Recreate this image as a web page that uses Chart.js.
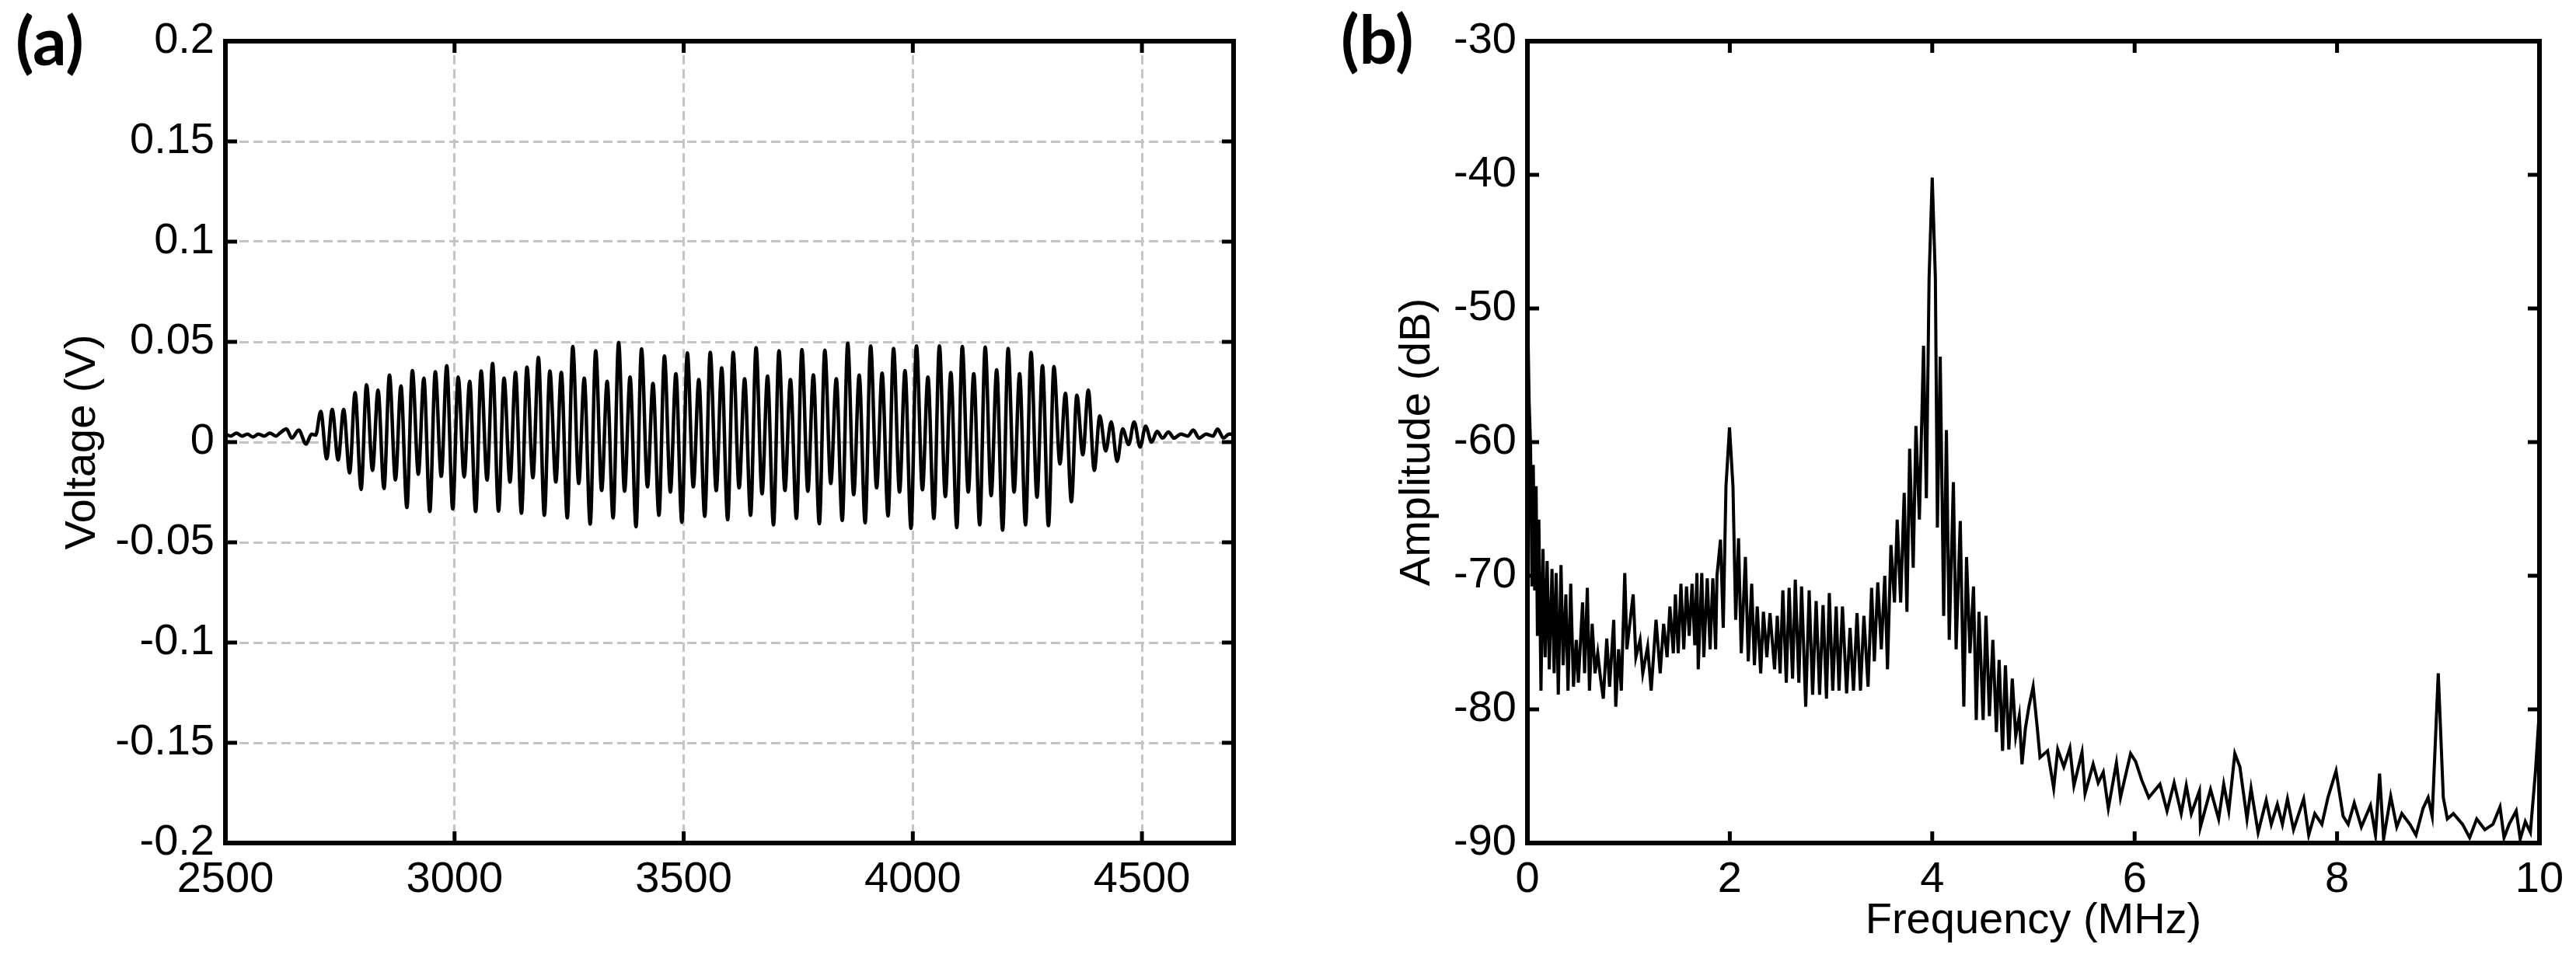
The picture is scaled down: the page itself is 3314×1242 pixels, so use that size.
<!DOCTYPE html>
<html>
<head>
<meta charset="utf-8">
<script src="https://cdn.jsdelivr.net/npm/chart.js@4.4.1/dist/chart.umd.min.js"></script>
<style>
  html, body { margin:0; padding:0; background:#fff; }
  body { width:3314px; height:1242px; position:relative; overflow:hidden; }
  .panel { position:absolute; top:0; width:1657px; height:1242px; }
  .tag { position:absolute; font-family:Lato, "Open Sans", sans-serif; font-weight:700; font-size:86px; line-height:1; color:#000; }
</style>
</head>
<body>
<div class="panel" style="left:0"><canvas id="chartA" width="1657" height="1242"></canvas></div>
<div class="panel" style="left:1657px"><canvas id="chartB" width="1657" height="1242"></canvas></div>
<div class="tag" style="left:20px;top:8px">(a)</div>
<div class="tag" style="left:1725px;top:6px">(b)</div>
<script>
// ---------- data (a): received voltage vs sample ----------
const waveT = [2500,2512,2524,2536,2548,2560,2572,2585,2597,2610,2620,2633,2645,2660,2676,2688,2697,
  2708,2721,2733,2746,2758,2771,2783,2796,2808,2821,2833,2846,2858,2871,2883,2896,2908,2921,2933,2946,
  2958,2971,2983,2996,3008,3021,3033,3046,3058,3071,3083,3096,3108,3121,3133,3146,3158,3171,3183,3196,
  3208,3221,3233,3246,3258,3271,3283,3296,3308,3321,3333,3346,3358,3371,3383,3396,3408,3421,3433,3446,
  3458,3471,3483,3496,3508,3521,3533,3546,3558,3571,3583,3596,3608,3621,3633,3646,3658,3671,3683,3696,
  3708,3721,3733,3746,3758,3771,3783,3796,3808,3821,3833,3846,3858,3871,3883,3896,3908,3921,3933,3946,
  3958,3971,3983,3996,4008,4021,4033,4046,4058,4071,4083,4096,4108,4121,4133,4146,4158,4171,4183,4196,
  4208,4221,4233,4246,4258,4271,4283,4296,4308,4321,4333,4346,4358,4371,4383,4396,4408,4421,4433,4446,
  4458,4471,4483,4496,4508,4521,4533,
  4545,4558,4570,4585,4600,4612,4625,4640,4655,4665,4678,4690,4700];
const waveV = [0.004,0.003,0.0045,0.003,0.004,0.0025,0.004,0.003,0.0045,0.003,0.0047,0.0066,0.002,0.006,-0.001,0.004,0.0035,
  0.0153,-0.0083,0.0163,-0.0089,0.0163,-0.0154,0.0247,-0.0236,0.0286,-0.0141,0.026,-0.0232,0.0334,-0.0189,
  0.028,-0.0326,0.0357,-0.016,0.0319,-0.0346,0.0351,-0.0171,0.0381,-0.0333,0.0325,-0.0174,0.0303,-0.0346,
  0.0355,-0.0189,0.0392,-0.0344,0.0319,-0.0199,0.0348,-0.0355,0.0374,-0.0177,0.0422,-0.0365,0.0355,-0.0199,
  0.0348,-0.0378,0.0477,-0.0206,0.0319,-0.0409,0.0455,-0.0241,0.0303,-0.0378,0.0497,-0.0245,0.0325,-0.0422,
  0.0465,-0.0223,0.0293,-0.0365,0.0429,-0.0249,0.0341,-0.04,0.0445,-0.0223,0.0312,-0.037,0.0448,-0.0242,
  0.037,-0.0387,0.0448,-0.0228,0.0316,-0.0365,0.0471,-0.0258,0.0329,-0.0413,0.0455,-0.0241,0.0312,-0.0381,
  0.0461,-0.0245,0.0335,-0.0407,0.0458,-0.0206,0.0316,-0.0391,0.0493,-0.0262,0.0334,-0.0403,0.048,-0.0228,
  0.0344,-0.0368,0.0467,-0.0249,0.0357,-0.043,0.048,-0.0238,0.0325,-0.0381,0.048,-0.0271,0.0347,-0.0426,
  0.0477,-0.0249,0.0341,-0.0413,0.0474,-0.0267,0.036,-0.0439,0.0467,-0.0249,0.0341,-0.0413,0.0448,-0.0275,
  0.0381,-0.0417,0.0377,-0.0109,0.0243,-0.0297,0.0234,-0.0063,0.026,-0.0141,0.0131,-0.0044,0.0101,-0.0096,
  0.0066,-0.0012,0.0101,-0.0025,0.0079,0.0,0.0053,
  0.002,0.005,0.002,0.004,0.003,0.006,0.002,0.004,0.003,0.0065,0.002,0.004,0.004];
const waveTicksX = [2500, 3000, 3500, 4000, 4500];

// ---------- data (b): amplitude spectrum ----------
const freqMHz = [0.003,0.017,0.031,0.045,0.058,0.072,0.086,0.099,0.113,0.134,0.154,0.175,0.195,0.216,0.243,0.264,
  0.284,0.305,0.332,0.353,0.380,0.401,0.428,0.455,0.483,0.503,0.545,0.565,0.592,0.613,0.640,0.668,0.695,0.723,
  0.750,0.784,0.812,0.853,0.873,0.901,0.928,0.962,0.983,1.045,1.072,1.113,1.140,1.188,1.223,1.271,1.312,1.346,
  1.380,1.408,1.442,1.462,1.490,1.517,1.545,1.572,1.599,1.627,1.654,1.675,1.688,1.723,1.743,1.777,1.805,1.832,
  1.860,1.873,1.908,1.935,1.962,1.997,2.031,2.058,2.086,2.113,2.154,2.182,2.216,2.243,2.271,2.305,2.332,2.366,
  2.397,2.442,2.469,2.497,2.524,2.558,2.586,2.620,2.647,2.682,2.709,2.750,2.784,2.818,2.853,2.887,2.921,2.955,
  2.983,3.017,3.051,3.079,3.113,3.154,3.188,3.222,3.257,3.291,3.325,3.366,3.401,3.428,3.462,3.497,3.531,3.558,
  3.592,3.627,3.654,3.688,3.723,3.750,3.777,3.812,3.839,3.873,3.914,3.942,3.969,4.000,4.031,4.051,4.079,4.113,
  4.140,4.168,4.209,4.236,4.277,4.312,4.339,4.373,4.408,4.435,4.462,4.503,4.531,4.565,4.599,4.634,4.661,4.695,
  4.723,4.757,4.791,4.825,4.860,4.887,4.921,4.955,4.997,5.038,5.065,
  5.14,5.20,5.24,5.30,5.36,5.40,5.48,5.51,5.59,5.64,5.69,5.74,5.82,5.86,5.96,6.01,6.07,6.14,6.25,6.32,6.39,
  6.46,6.51,6.56,6.64,6.65,6.75,6.83,6.88,6.93,6.99,7.04,7.11,7.15,7.22,7.30,7.35,7.41,7.46,7.51,7.57,7.67,
  7.72,7.78,7.85,7.91,7.99,8.06,8.11,8.17,8.24,8.33,8.38,8.42,8.46,8.53,8.59,8.64,8.72,8.78,8.85,8.90,8.94,
  9.00,9.05,9.09,9.15,9.24,9.31,9.38,9.46,9.54,9.61,9.65,9.70,9.77,9.81,9.86,9.91,9.96,10.0];
const ampDB = [-50.5,-57.0,-60.2,-70.8,-61.7,-71.1,-63.3,-74.5,-65.8,-78.6,-68.0,-76.1,-68.9,-77.0,-69.5,-77.3,
  -69.8,-78.9,-69.2,-76.7,-71.4,-78.6,-70.6,-78.3,-74.8,-78.0,-72.0,-77.3,-70.9,-78.6,-73.6,-77.3,-75.8,-77.7,
  -79.2,-74.7,-78.3,-73.3,-79.8,-75.5,-78.6,-69.8,-75.5,-71.4,-76.1,-74.8,-77.3,-75.3,-78.6,-73.3,-77.3,-73.6,
  -76.1,-72.3,-75.8,-71.4,-75.8,-70.6,-75.5,-70.8,-74.5,-70.6,-75.2,-69.8,-77.0,-69.8,-76.1,-70.2,-75.5,-70.2,
  -75.5,-70.0,-67.3,-73.9,-63.3,-58.9,-63.3,-73.3,-67.2,-75.8,-68.6,-76.4,-70.6,-76.7,-72.3,-77.3,-72.7,-76.1,
  -72.8,-77.0,-73.0,-77.3,-71.1,-78.0,-70.9,-77.7,-70.3,-78.0,-70.8,-79.8,-71.1,-78.9,-71.9,-78.9,-72.2,-79.2,
  -71.3,-78.6,-72.3,-78.6,-72.3,-78.8,-73.9,-78.6,-72.8,-78.6,-73.0,-78.3,-70.9,-76.4,-70.5,-75.5,-70.0,-77.0,
  -67.7,-72.0,-65.8,-72.0,-63.8,-72.7,-60.5,-69.4,-58.8,-65.8,-52.8,-64.2,-47.7,-40.2,-47.7,-66.4,-53.6,-73.0,
  -59.1,-74.8,-63.0,-75.5,-65.9,-79.8,-68.6,-75.8,-70.8,-80.8,-72.7,-80.8,-73.0,-80.5,-74.8,-81.7,-76.3,-83.1,
  -76.7,-83.0,-77.7,-82.0,-80.5,-84.1,-81.4,-79.8,-78.3,-81.4,-83.6,
  -83.1,-85.9,-83.0,-84.3,-82.9,-85.7,-83.2,-86.3,-84.1,-85.5,-84.7,-87.4,-84.0,-86.6,-83.3,-83.9,-85.3,-86.6,
  -85.6,-87.6,-85.5,-87.8,-85.7,-87.8,-86.1,-88.8,-86.0,-88.2,-85.6,-87.6,-83.3,-84.3,-88.2,-85.9,-89.2,-86.8,
  -88.6,-87.1,-88.6,-86.7,-89.0,-86.7,-89.4,-87.8,-88.6,-86.6,-84.6,-88.0,-88.6,-87.0,-88.8,-87.2,-89.4,-84.8,
  -89.7,-86.5,-88.8,-87.8,-88.6,-89.4,-87.4,-86.6,-88.0,-77.3,-86.6,-88.2,-87.8,-88.6,-89.6,-88.2,-89.0,-88.6,
  -87.3,-89.6,-88.6,-87.6,-89.7,-88.4,-89.2,-84.7,-80.0];

// ---------- common styling ----------
Chart.defaults.font.family = '"Liberation Sans", Arial, sans-serif';
Chart.defaults.color = '#000';

const tickFont = { size:56, lineHeight:1.2 };
const titleFont = { size:56, lineHeight:1.0 };

// black box round the plot area with inward tick marks on all four sides
const boxFrame = {
  id:'boxFrame',
  afterDraw(chart){
    const {ctx, chartArea:a, scales:{x, y}} = chart;
    ctx.save();
    ctx.strokeStyle = '#000';
    ctx.lineWidth = 5;
    ctx.beginPath();
    x.ticks.forEach(t=>{
      const px = x.getPixelForValue(t.value);
      ctx.moveTo(px, a.bottom); ctx.lineTo(px, a.bottom - 15);
      ctx.moveTo(px, a.top); ctx.lineTo(px, a.top + 15);
    });
    y.ticks.forEach(t=>{
      const py = y.getPixelForValue(t.value);
      ctx.moveTo(a.left, py); ctx.lineTo(a.left + 15, py);
      ctx.moveTo(a.right, py); ctx.lineTo(a.right - 15, py);
    });
    ctx.stroke();
    ctx.lineWidth = 6;
    ctx.strokeRect(a.left, a.top, a.right - a.left, a.bottom - a.top);
    ctx.restore();
  }
};

const fmt = v => String(parseFloat(Number(v).toFixed(3)));
function xy(xs, ys){ return xs.map((v,i)=>({x:v, y:ys[i]})); }

// ---------- (a) ----------
new Chart(document.getElementById('chartA'), {
  type:'line',
  data:{ datasets:[{ data:xy(waveT, waveV), borderColor:'#000', borderWidth:4.5, pointRadius:0,
    cubicInterpolationMode:'monotone', fill:false }] },
  options:{
    responsive:false, animation:false, devicePixelRatio:1,
    layout:{ padding:{ left:0, top:53, right:70, bottom:0 } },
    plugins:{ legend:{display:false}, tooltip:{enabled:false} },
    scales:{
      x:{ type:'linear', min:2500, max:4700,
        afterBuildTicks:s=>{ s.ticks = waveTicksX.map(v=>({value:v})); },
        ticks:{ font:tickFont, padding:14, maxRotation:0, autoSkip:false, callback:fmt },
        grid:{ color:'#c4c4c4', lineWidth:3, drawTicks:false },
        border:{ display:false, dash:[12,6] },
        afterFit:s=>{ s.height = 1242 - 1085; } },
      y:{ type:'linear', min:-0.2, max:0.2,
        ticks:{ stepSize:0.05, font:tickFont, padding:14, callback:fmt },
        grid:{ color:'#c4c4c4', lineWidth:3, drawTicks:false },
        border:{ display:false, dash:[12,6] },
        title:{ display:true, text:'Voltage (V)', font:titleFont, padding:{top:79, bottom:0} },
        afterFit:s=>{ s.width = 290; } }
    }
  },
  plugins:[boxFrame]
});

// ---------- (b) ----------
new Chart(document.getElementById('chartB'), {
  type:'line',
  data:{ datasets:[{ data:xy(freqMHz, ampDB), borderColor:'#000', borderWidth:4, pointRadius:0,
    tension:0, fill:false }] },
  options:{
    responsive:false, animation:false, devicePixelRatio:1,
    layout:{ padding:{ left:0, top:53, right:47, bottom:0 } },
    plugins:{ legend:{display:false}, tooltip:{enabled:false} },
    scales:{
      x:{ type:'linear', min:0, max:10,
        ticks:{ stepSize:2, font:tickFont, padding:14, maxRotation:0, callback:fmt },
        grid:{ display:false, drawTicks:false },
        border:{ display:false },
        title:{ display:true, text:'Frequency (MHz)', font:titleFont, padding:{top:0, bottom:28} },
        afterFit:s=>{ s.height = 1242 - 1085; } },
      y:{ type:'linear', min:-90, max:-30,
        ticks:{ stepSize:10, font:tickFont, padding:14, callback:fmt },
        grid:{ display:false, drawTicks:false },
        border:{ display:false },
        title:{ display:true, text:'Amplitude (dB)', font:titleFont, padding:{top:139, bottom:0} },
        afterFit:s=>{ s.width = 308; } }
    }
  },
  plugins:[boxFrame]
});
</script>
</body>
</html>
